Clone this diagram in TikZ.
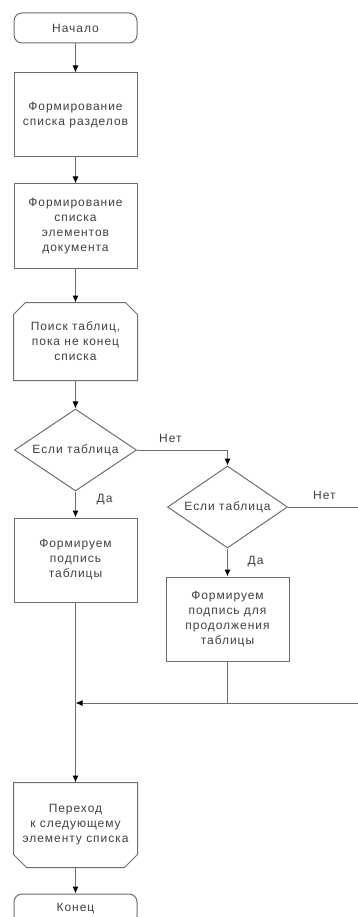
\documentclass[tikz,border=0pt]{standalone}
\usepackage{fontspec}
\newfontfamily\flowfont[LetterSpace=8]{Liberation Sans}
\usetikzlibrary{arrows.meta, positioning, shapes.geometric}
\definecolor{linegray}{HTML}{6E6E6E}
\definecolor{textgray}{HTML}{404040}
\tikzstyle{block} = [rectangle, draw=linegray, line width=1pt, minimum width=123pt, minimum height=84pt, inner sep=2pt, align=center, text=textgray, font=\flowfont\fontsize{12pt}{15pt}\selectfont]
\tikzstyle{term} = [block, rounded corners=8pt, minimum height=30pt]
\tikzstyle{decision} = [block, diamond, aspect=1.5, inner sep=0pt, minimum width=122pt, minimum height=82pt]
\tikzstyle{hidden} = [block, draw=none]
\tikzstyle{line} = [draw=linegray, line width=1pt]
\tikzstyle{path} = [line, -{Latex[length=7pt, width=6pt, color=black]}]
\tikzstyle{lbl} = [inner sep=0pt, text=textgray, font=\flowfont\fontsize{12pt}{13pt}\selectfont]

\begin{document}
\begin{tikzpicture}[x=1pt, y=-1pt]
    \useasboundingbox (0,0) rectangle (358,917);

    % Main column.
    \node (node 1) [term] at (75.5, 28) {Начало};
    \node (node 2) [block, below=29pt of node 1] {Формирование\\списка разделов};
    \node (node 3) [block, below=26pt of node 2] {Формирование\\списка\\элементов\\документа};
    \node (node 4) [hidden, below=34pt of node 3, minimum height=77pt] {Поиск таблиц,\\пока не конец\\списка};
    \node (node 5) [decision, below=28pt of node 4] {Если таблица};
    \node (node 6) [block, below=26pt of node 5] {Формируем\\подпись\\таблицы};
    \node (node 7) [hidden, below=180pt of node 6] {Переход\\к следующему\\элементу списка};
    \node (node 8) [term, below=26pt of node 7] {Конец};

    % Second branch.
    \node (node 5b) [decision, right=30pt of node 5, yshift=-57pt, minimum width=120pt] {Если таблица};
    \node (node 6b) [block, below=28pt of node 5b] {Формируем\\подпись для\\продолжения\\таблицы};
    \coordinate (turn) at (366, 703);

    % Loop limits.
    \draw [line] ([xshift=12pt]node 4.north west) -- ([xshift=-12pt]node 4.north east)
        -- ([yshift=-12pt]node 4.north east) -- (node 4.south east)
        -- (node 4.south west) -- ([yshift=-12pt]node 4.north west) -- cycle;
    \draw [line] (node 7.north west) -- (node 7.north east)
        -- ([yshift=13pt]node 7.south east) -- ([xshift=-13pt]node 7.south east)
        -- ([xshift=13pt]node 7.south west) -- ([yshift=13pt]node 7.south west) -- cycle;

    % Labels.
    \node (no 1) [lbl, above right=7pt and 22pt of node 5.east] {Нет};
    \node (yes 1) [lbl, below right=3pt and 21pt of node 5.south] {Да};
    \node (no 2) [lbl, above right=7pt and 25pt of node 5b.east] {Нет};
    \node (yes 2) [lbl, below right=8pt and 20pt of node 5b.south] {Да};

    % Arrows.
    \foreach \i/\j in {1/2, 2/3, 3/4, 4/5, 5/6, 6/7, 7/8} {%
        \draw [path] (node \i) -- (node \j);
    }
    \draw [path] (node 5.east) -| (node 5b.north);
    \draw [path] (node 5b) -- (node 6b);
    \draw [path] (node 5b.east) -| (turn) -- (node 6.south |- turn);
    \draw [line] (node 6b) -- (node 6b.south |- turn);
\end{tikzpicture}
\end{document}
